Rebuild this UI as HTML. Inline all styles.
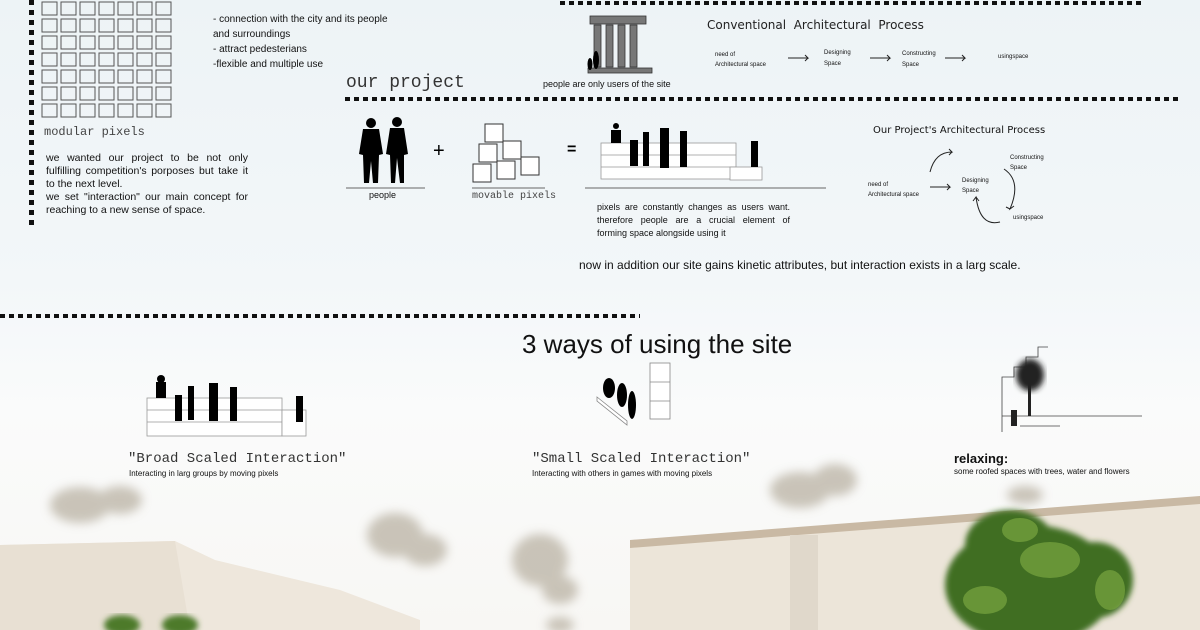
<!DOCTYPE html>
<html><head><meta charset="utf-8"><style>
*{margin:0;padding:0}
body{width:1200px;height:630px;overflow:hidden;position:relative;font-family:"Liberation Sans",sans-serif;background:linear-gradient(#edf3f6 0%,#f3f7f9 45%,#fafbfb 65%,#f8f7f4 100%);color:#111}
.t{position:absolute;white-space:nowrap}
.m{font-family:"Liberation Mono",monospace}
.dv{position:absolute;width:5px;background:repeating-linear-gradient(#111 0 5px,transparent 5px 10px)}
.dh{position:absolute;height:4px;background:repeating-linear-gradient(90deg,#111 0 5px,transparent 5px 9px)}
</style></head><body>
<svg width="1200" height="630" style="position:absolute;left:0;top:0">
<defs>
<filter id="b"><feGaussianBlur stdDeviation="5"/></filter>
<filter id="b2"><feGaussianBlur stdDeviation="3"/></filter>
</defs>
<g stroke="#555" stroke-width="1" fill="none">
<g id="r">
<rect x="42" y="2" width="15" height="13"/><rect x="61" y="2" width="15" height="13"/><rect x="80" y="2" width="15" height="13"/><rect x="99" y="2" width="15" height="13"/><rect x="118" y="2" width="15" height="13"/><rect x="137" y="2" width="15" height="13"/><rect x="156" y="2" width="15" height="13"/>
</g>
<use href="#r" y="17"/><use href="#r" y="34"/><use href="#r" y="51"/><use href="#r" y="68"/><use href="#r" y="85"/><use href="#r" y="102"/>
</g>
<g fill="#777" stroke="#333" stroke-width="0.8">
<rect x="590" y="16" width="56" height="8"/>
<rect x="594" y="25" width="7" height="42"/><rect x="606" y="25" width="7" height="42"/><rect x="618" y="25" width="7" height="42"/><rect x="630" y="25" width="7" height="42"/>
<rect x="588" y="68" width="64" height="5"/>
</g>
<g fill="#000"><ellipse cx="596" cy="60" rx="3" ry="9"/><ellipse cx="590" cy="64" rx="2.5" ry="6"/></g>
<g fill="#000">
<circle cx="371" cy="123" r="5"/><path d="M363 129h16l4 25-4 1-1 28h-5l-2-22-2 22h-5l-1-28-4-1z"/>
<circle cx="397" cy="122" r="5"/><path d="M390 128h14l4 26-4 1v28h-4l-3-25-2 25h-4l-1-28-4-1z"/>
</g>
<line x1="346" y1="188" x2="425" y2="188" stroke="#666"/>
<text x="433" y="157" font-size="20">+</text>
<g fill="#fff" stroke="#333" stroke-width="1">
<rect x="473" y="164" width="18" height="18"/><rect x="497" y="161" width="18" height="18"/><rect x="521" y="157" width="18" height="18"/>
<rect x="479" y="144" width="18" height="18"/><rect x="503" y="141" width="18" height="18"/>
<rect x="485" y="124" width="18" height="18"/>
</g>
<line x1="472" y1="188" x2="545" y2="188" stroke="#666"/>
<text x="567" y="154" font-size="16" font-weight="bold">=</text>
<g fill="#fff" stroke="#999" stroke-width="0.8">
<rect x="601" y="143" width="135" height="36"/><line x1="601" y1="155" x2="736" y2="155"/><line x1="601" y1="167" x2="736" y2="167"/>
<rect x="730" y="167" width="32" height="13"/>
</g>
<g fill="#000">
<rect x="611" y="130" width="10" height="13"/><circle cx="616" cy="126" r="3"/>
<rect x="630" y="140" width="8" height="26"/><rect x="643" y="132" width="6" height="34"/>
<rect x="660" y="128" width="9" height="40"/><rect x="680" y="131" width="7" height="36"/><rect x="751" y="141" width="7" height="26"/>
</g>
<line x1="585" y1="188" x2="826" y2="188" stroke="#666"/>
<g stroke="#222" fill="none" stroke-width="1">
<path d="M788 58h20l-3-3M808 58l-3 3"/><path d="M870 58h20l-3-3M890 58l-3 3"/><path d="M945 58h20l-3-3M965 58l-3 3"/>
<path d="M930 187h20l-3-3M950 187l-3 3"/>
<path d="M930 172q5-20 22-20l-3-3M952 152l-3 3"/>
<path d="M1004 169q18 12 6 40l4-3M1010 209l-4-2"/>
<path d="M1000 222q-20 5-24-25l-3 4M976 197l3 4"/>
</g>
<g fill="#fff" stroke="#999" stroke-width="0.8">
<rect x="147" y="398" width="135" height="38"/><line x1="147" y1="410" x2="282" y2="410"/><line x1="147" y1="422" x2="306" y2="422"/><rect x="282" y="410" width="24" height="26"/>
</g>
<g fill="#000">
<rect x="156" y="382" width="10" height="16"/><circle cx="161" cy="379" r="4"/>
<rect x="175" y="395" width="7" height="26"/><rect x="188" y="386" width="6" height="34"/>
<rect x="209" y="383" width="9" height="38"/><rect x="230" y="387" width="7" height="34"/><rect x="296" y="396" width="7" height="26"/>
</g>
<g fill="#fff" stroke="#888" stroke-width="0.8">
<path d="M597 397l30 24v4l-30-24z"/><rect x="650" y="363" width="20" height="56"/><line x1="650" y1="382" x2="670" y2="382"/><line x1="650" y1="401" x2="670" y2="401"/>
</g>
<g fill="#000"><ellipse cx="609" cy="388" rx="6" ry="10"/><ellipse cx="622" cy="395" rx="5" ry="12"/><ellipse cx="632" cy="405" rx="4" ry="14"/></g>
<g stroke="#444" fill="none" stroke-width="0.8"><path d="M1002 432v-55h12v-10h12v-10h12v-10h10M1002 416h140M1020 426h40"/></g>
<g fill="#222"><ellipse cx="1030" cy="375" rx="14" ry="16" filter="url(#b2)"/><rect x="1028" y="380" width="3" height="36"/><rect x="1011" y="410" width="6" height="16"/></g>
<g fill="#b5ad9e" opacity="0.7" filter="url(#b)">
<ellipse cx="80" cy="505" rx="30" ry="18"/><ellipse cx="120" cy="500" rx="22" ry="14"/>
<ellipse cx="395" cy="535" rx="28" ry="22"/><ellipse cx="425" cy="550" rx="22" ry="16"/>
<ellipse cx="540" cy="560" rx="28" ry="26"/><ellipse cx="560" cy="590" rx="18" ry="14"/>
<ellipse cx="800" cy="490" rx="30" ry="18"/><ellipse cx="835" cy="480" rx="22" ry="16"/>
<ellipse cx="1025" cy="495" rx="18" ry="9"/><ellipse cx="560" cy="625" rx="14" ry="8"/>
</g>
<path d="M0 545L175 541 215 560 340 590 420 620V630H0z" fill="#eee7dc"/>
<path d="M0 545L175 541 190 630H0z" fill="#e8e0d3"/>
<path d="M630 545L1200 500V630H630z" fill="#ece5d9"/>
<path d="M630 540L1200 496V504L630 548z" fill="#c9b9a4"/>
<rect x="790" y="535" width="28" height="95" fill="#e0d8cb"/>
<g fill="#3f6e22" filter="url(#b2)">
<ellipse cx="1030" cy="585" rx="85" ry="60"/><ellipse cx="1010" cy="545" rx="45" ry="35"/><ellipse cx="1095" cy="580" rx="38" ry="38"/>
</g>
<g fill="#7aa640" opacity="0.7"><ellipse cx="1050" cy="560" rx="30" ry="18"/><ellipse cx="985" cy="600" rx="22" ry="14"/><ellipse cx="1110" cy="590" rx="15" ry="20"/><ellipse cx="1020" cy="530" rx="18" ry="12"/></g>
<g fill="#4d7a2c" filter="url(#b2)"><ellipse cx="122" cy="625" rx="18" ry="10"/><ellipse cx="180" cy="625" rx="18" ry="10"/></g>
</svg>

<div class="dv" style="left:29px;top:0;height:226px"></div>
<div class="dh" style="left:560px;top:1px;width:585px"></div>
<div class="dh" style="left:345px;top:97px;width:835px"></div>
<div class="dh" style="left:0;top:314px;width:640px"></div>

<div class="t" style="left:213px;top:12px;font-size:10px;line-height:15px">- connection with the city and its people<br>and surroundings<br>- attract pedesterians<br>-flexible and multiple use</div>
<div class="t m" style="left:44px;top:125px;font-size:12px;color:#444">modular pixels</div>
<div class="t" style="left:46px;top:152px;width:202px;white-space:normal;font-size:10.5px;line-height:13px;text-align:justify">we wanted our project to be not only fulfilling competition's porposes but take it to the next level.<br>we set "interaction" our main concept for reaching to a new sense of space.</div>
<div class="t m" style="left:346px;top:73px;font-size:18px;color:#333">our project</div>
<div class="t" style="left:543px;top:79px;font-size:9px">people are only users of the site</div>
<div class="t" style="left:707px;top:18px;font-size:12px;font-family:'DejaVu Sans',sans-serif;color:#222">Conventional&nbsp; Architectural&nbsp; Process</div>
<div class="t" style="left:715px;top:50px;font-size:6px;line-height:10px">need of<br>Architectural space</div>
<div class="t" style="left:824px;top:48px;font-size:6px;line-height:11px">Designing<br>Space</div>
<div class="t" style="left:902px;top:49px;font-size:6px;line-height:11px">Constructing<br>Space</div>
<div class="t" style="left:998px;top:54px;font-size:6px">usingspace</div>
<div class="t" style="left:369px;top:190px;font-size:9px">people</div>
<div class="t m" style="left:472px;top:191px;font-size:10px;color:#444">movable pixels</div>
<div class="t" style="left:597px;top:201px;width:193px;white-space:normal;font-size:9px;line-height:13px;text-align:justify">pixels are constantly changes as users want. therefore people are a crucial element of forming space alongside using it</div>
<div class="t" style="left:873px;top:125px;font-size:10px;font-family:'DejaVu Sans',sans-serif">Our Project's Architectural Process</div>
<div class="t" style="left:868px;top:180px;font-size:6px;line-height:10px">need of<br>Architectural space</div>
<div class="t" style="left:962px;top:176px;font-size:6px;line-height:10px">Designing<br>Space</div>
<div class="t" style="left:1010px;top:153px;font-size:6px;line-height:10px">Constructing<br>Space</div>
<div class="t" style="left:1013px;top:215px;font-size:6px">usingspace</div>
<div class="t" style="left:579px;top:258px;font-size:12px">now in addition our site gains kinetic attributes, but interaction exists in a larg scale.</div>
<div class="t" style="left:522px;top:329px;font-size:26px">3 ways of using the site</div>
<div class="t m" style="left:128px;top:451px;font-size:14px;color:#333">"Broad Scaled Interaction"</div>
<div class="t" style="left:129px;top:469px;font-size:8px">Interacting in larg groups by moving pixels</div>
<div class="t m" style="left:532px;top:451px;font-size:14px;color:#333">"Small Scaled Interaction"</div>
<div class="t" style="left:532px;top:469px;font-size:8px">Interacting with others in games with moving pixels</div>
<div class="t" style="left:954px;top:451px;font-size:13px;font-weight:bold">relaxing:</div>
<div class="t" style="left:954px;top:467px;font-size:8px">some roofed spaces with trees, water and flowers</div>
</body></html>
